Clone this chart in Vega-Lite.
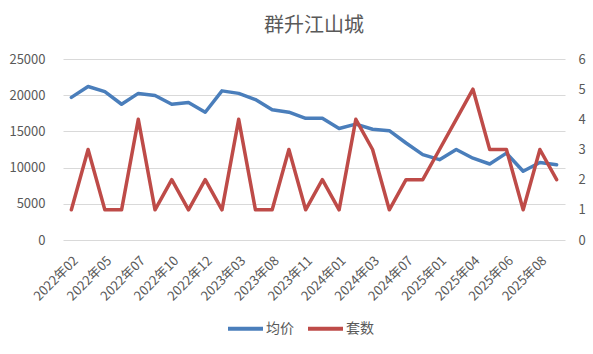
{
  "$schema": "https://vega.github.io/schema/vega-lite/v6.json",
  "autosize": {"type": "none"},
  "width": 502,
  "height": 181,
  "padding": {"left": 63, "top": 59, "right": 28, "bottom": 114},
  "background": "white",
  "title": {"text": "群升江山城", "fontSize": 20, "font": "Noto Sans CJK SC", "fontWeight": "normal", "color": "#595959", "offset": 17, "anchor": "middle"},
  "config": {
    "view": {"stroke": null},
    "font": "Noto Sans CJK SC",
    "axis": {"labelFont": "Noto Sans CJK SC", "labelColor": "#595959", "labelFontSize": 13, "titleColor": "#595959"},
    "legend": {"labelFont": "Noto Sans CJK SC", "labelFontSize": 14, "labelColor": "#595959"}
  },
  "data": {"values": [
    {"month": "2022年02", "price": 19700, "count": 1},
    {"month": "2022年04", "price": 21200, "count": 3},
    {"month": "2022年05", "price": 20500, "count": 1},
    {"month": "2022年06", "price": 18750, "count": 1},
    {"month": "2022年07", "price": 20250, "count": 4},
    {"month": "2022年09", "price": 19950, "count": 1},
    {"month": "2022年10", "price": 18750, "count": 2},
    {"month": "2022年11", "price": 19000, "count": 1},
    {"month": "2022年12", "price": 17650, "count": 2},
    {"month": "2023年02", "price": 20600, "count": 1},
    {"month": "2023年03", "price": 20250, "count": 4},
    {"month": "2023年06", "price": 19400, "count": 1},
    {"month": "2023年08", "price": 18000, "count": 1},
    {"month": "2023年10", "price": 17650, "count": 3},
    {"month": "2023年11", "price": 16800, "count": 1},
    {"month": "2023年12", "price": 16800, "count": 2},
    {"month": "2024年01", "price": 15400, "count": 1},
    {"month": "2024年02", "price": 16000, "count": 4},
    {"month": "2024年03", "price": 15300, "count": 3},
    {"month": "2024年05", "price": 15100, "count": 1},
    {"month": "2024年07", "price": 13400, "count": 2},
    {"month": "2024年10", "price": 11800, "count": 2},
    {"month": "2025年01", "price": 11100, "count": 3},
    {"month": "2025年03", "price": 12500, "count": 4},
    {"month": "2025年04", "price": 11300, "count": 5},
    {"month": "2025年05", "price": 10500, "count": 3},
    {"month": "2025年06", "price": 12000, "count": 3},
    {"month": "2025年07", "price": 9500, "count": 1},
    {"month": "2025年08", "price": 10700, "count": 3},
    {"month": "2025年09", "price": 10400, "count": 2}
  ]},
  "encoding": {
    "x": {
      "field": "month", "type": "ordinal", "sort": null,
      "scale": {"type": "point", "padding": 0.5},
      "axis": {
        "title": null, "labelAngle": -45, "domain": false, "ticks": false, "grid": false, "labelPadding": 14, "labelDx": 3,
        "values": ["2022年02","2022年05","2022年07","2022年10","2022年12","2023年03","2023年08","2023年11","2024年01","2024年03","2024年07","2025年01","2025年04","2025年06","2025年08"]
      }
    }
  },
  "layer": [
    {
      "mark": {"type": "line", "strokeWidth": 3.5, "strokeCap": "round", "strokeJoin": "round"},
      "encoding": {
        "y": {"field": "price", "type": "quantitative", "scale": {"domain": [0, 25000]},
          "axis": {"title": null, "orient": "left", "format": "d", "values": [0,5000,10000,15000,20000,25000], "domain": false, "ticks": false, "labelPadding": 18, "gridColor": "#d9d9d9", "gridWidth": 1}},
        "color": {"datum": "均价", "type": "nominal",
          "scale": {"domain": ["均价", "套数"], "range": ["#4a7ebb", "#be4b48"]},
          "legend": {"title": null, "orient": "none", "legendX": 163, "legendY": 250, "direction": "horizontal", "symbolType": "stroke", "symbolSize": 1225, "symbolStrokeWidth": 4, "labelOffset": 1, "columnPadding": 6}}
      }
    },
    {
      "mark": {"type": "line", "strokeWidth": 3.5, "strokeCap": "round", "strokeJoin": "round"},
      "encoding": {
        "y": {"field": "count", "type": "quantitative", "scale": {"domain": [0, 6]},
          "axis": {"title": null, "orient": "right", "values": [0,1,2,3,4,5,6], "domain": false, "ticks": false, "grid": false, "labelPadding": 13}},
        "color": {"datum": "套数", "type": "nominal"}
      }
    }
  ],
  "resolve": {"scale": {"y": "independent"}}
}
